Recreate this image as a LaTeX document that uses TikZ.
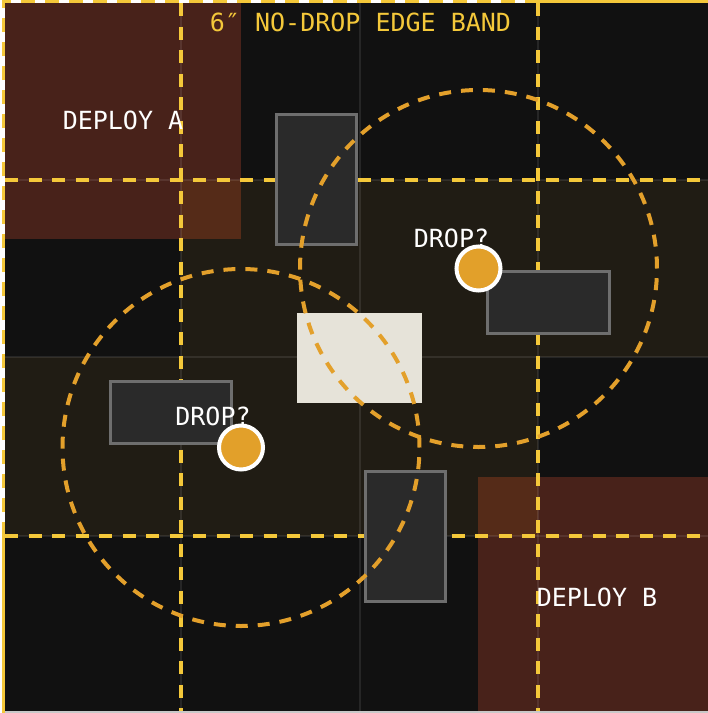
\documentclass[tikz,border=0pt]{standalone}
\usepackage{fontspec}
\newfontfamily\boardmono{DejaVu Sans Mono}
\definecolor{boardbg}{HTML}{111111}
\definecolor{bandtint}{HTML}{201C14}
\definecolor{deployfill}{HTML}{48221A}
\definecolor{deploylap}{HTML}{552B18}
\definecolor{bandyellow}{HTML}{F4C83A}
\definecolor{ringorange}{HTML}{E3A02B}
\definecolor{dotorange}{HTML}{E2A02A}
\definecolor{terrainfill}{HTML}{2A2A2A}
\definecolor{terrainedge}{HTML}{6E6E6E}
\definecolor{objcream}{HTML}{E6E3D9}
\definecolor{edgegrey}{HTML}{C8C8C8}
\begin{document}
\begin{tikzpicture}[x=1pt,y=-1pt,
  yelline/.style={draw=bandyellow,line width=3.5pt,dash pattern=on 13pt off 10.5pt},
  ring/.style={draw=ringorange,line width=4pt,dash pattern=on 12pt off 10pt},
  terrain/.style={rectangle,draw=terrainedge,fill=terrainfill,line width=3pt,inner sep=0pt,outer sep=0pt},
  objbox/.style={rectangle,fill=objcream,inner sep=0pt,minimum width=125pt,minimum height=90pt},
  dropdot/.style={circle,fill=dotorange,draw=white,line width=4pt,minimum size=44pt,inner sep=0pt},
  lbl/.style={font=\boardmono\fontsize{25}{25}\selectfont,text=white,inner sep=0pt,anchor=base},
  gridln/.style={draw=white,draw opacity=0.09,line width=2pt}
]
\useasboundingbox (0,0) rectangle (708,713);
% base
\fill[white] (0,0) rectangle (708,713);
\fill[boardbg] (5,3) rectangle (708,711);
% bands
\fill[bandtint] (181,180) rectangle (708,357);
\fill[bandtint] (5,357) rectangle (538,536);
% deployment zones
\fill[deployfill] (5,3) rectangle (241,238.5);
\fill[deploylap] (181,180) rectangle (241,238.5);
\fill[deployfill] (478,477) rectangle (708,711);
\fill[deploylap] (478,477) rectangle (538,536);
% grid lines
\foreach \gx in {181,360,538} \draw[gridln] (\gx,3) -- (\gx,711);
\foreach \gy in {180,357,536} \draw[gridln] (5,\gy) -- (708,\gy);
% edge band lines
\coordinate (v1t) at (181,3); \coordinate (v1b) at (181,711);
\coordinate (v2t) at (538,3); \coordinate (v2b) at (538,711);
\coordinate (h1l) at (5,180); \coordinate (h1r) at (708,180);
\coordinate (h2l) at (5,536); \coordinate (h2r) at (708,536);
\draw[yelline] (v1t) -- (v1b);
\draw[yelline] (v2t) -- (v2b);
\draw[yelline] (h1l) -- (h1r);
\draw[yelline] (h2l) -- (h2r);
% outer border
\coordinate (bl) at (3.5,536); \coordinate (tl) at (3.5,1.5); \coordinate (tm) at (526,1.5);
\draw[bandyellow,line width=3.5pt,dash pattern=on 14pt off 10pt] (bl) -- (tl) -- (tm);
\draw[bandyellow,line width=3.5pt] (tm) -- (708,1.5);
\draw[bandyellow,line width=3.5pt] (bl) -- (3.5,713);
\draw[edgegrey,line width=2pt] (5,712) -- (708,712);
% terrain
\node[terrain,minimum width=80pt,minimum height=130pt] (t1) at (316.5,179.5) {};
\node[terrain,minimum width=121.5pt,minimum height=62pt] (t2) at (548.5,302.5) {};
\node[terrain,minimum width=121.5pt,minimum height=62pt] (t3) at (171,412.5) {};
\node[terrain,minimum width=80pt,minimum height=130pt] (t4) at (405.5,536) {};
\node[objbox] (obj) at (359.5,358) {};
% rings
\coordinate (c1) at (478.5,268.5);
\coordinate (c2) at (241,447.5);
\draw[ring] (c1) circle[radius=178.5pt];
\draw[ring] (c2) circle[radius=178.5pt];
% drop points
\node[dropdot] (d1) at (c1) {};
\node[dropdot] (d2) at (c2) {};
% labels
\node[lbl,text=bandyellow] (title) at (360.5,31) {6″ NO-DROP EDGE BAND};
\node[lbl] (depa) at (123,129) {DEPLOY A};
\node[lbl] (depb) at (597,606) {DEPLOY B};
\node[lbl] (drop1) at (451.5,247) {DROP?};
\node[lbl] (drop2) at (213,425) {DROP?};
\end{tikzpicture}
\end{document}
